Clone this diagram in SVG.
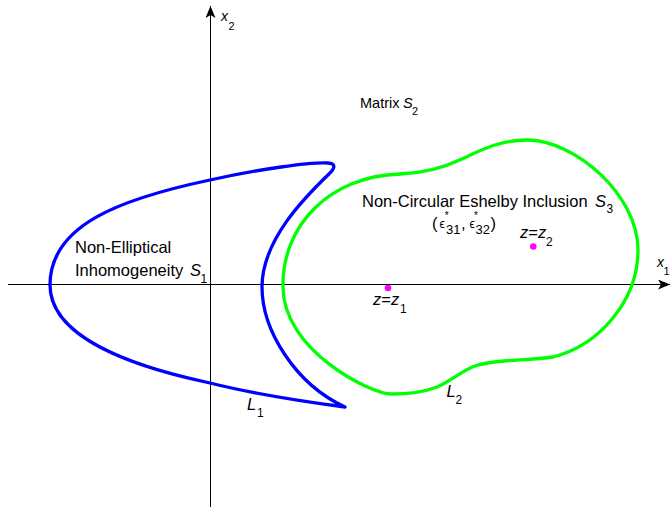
<svg xmlns="http://www.w3.org/2000/svg" width="670" height="507" viewBox="0 0 670 507">
<style>
text { font-family: "Liberation Sans", Arial, "DejaVu Sans", sans-serif; fill: #000; }
.lbl { font-size: 16.5px; }
.it { font-style: italic; }
.sub { font-size: 12px; }
.ax { stroke: #000; stroke-width: 1; fill: none; }
.curve { fill: none; stroke-width: 3.3; stroke-linejoin: round; stroke-linecap: round; }
.pt { fill: #ff00ff; }
</style>
<defs>
<marker id="arr" viewBox="0 0 12 10" refX="12" refY="5" markerWidth="12" markerHeight="10" orient="auto" markerUnits="userSpaceOnUse">
<path d="M0,0 L12,5 L0,10 L3,5 z" fill="#000"/>
</marker>
</defs>
<rect width="670" height="507" fill="#fff"/>

<g id="connectors">
<line class="ax" x1="8" y1="284.5" x2="670" y2="284.5" marker-end="url(#arr)"/>
<line class="ax" x1="210.5" y1="507" x2="210.5" y2="6" marker-end="url(#arr)"/>
</g>

<g id="axis-labels">
<text x="221" y="21" class="it" font-size="14">x</text>
<text x="228.5" y="29.5" font-size="11">2</text>
<text x="657" y="267" class="it" font-size="14">x</text>
<text x="663.5" y="275" font-size="11">1</text>
</g>

<g id="matrix">
<text x="360" y="107.5" font-size="14.5">Matrix</text>
<text x="403" y="107.5" font-size="14.5" class="it">S</text>
<text x="412" y="115" font-size="11">2</text>
</g>

<g id="inhomogeneity">
<path class="curve" stroke="#0000ff" d="M50,285 C50,225 120,199 210,180 C260,169 310,162 328,163 C336,163.5 335,168 330,173 C305,197 262,240 262,287 C262,330 295,384 345,407 C300,401 250,393 210,383 C125,365 50,335 50,285 Z"/>
<text x="75" y="253" class="lbl">Non-Elliptical</text>
<text x="75" y="276" class="lbl">Inhomogeneity</text>
<text x="190" y="276" class="lbl it">S</text>
<text x="200.5" y="282.5" class="sub">1</text>
<text x="247" y="409.5" class="lbl it">L</text>
<text x="257" y="417" class="sub">1</text>
</g>

<g id="inclusion">
<path class="curve" stroke="#00ff00" d="M283,287 C282,225 330,176 400,174 C425,173.3 445,167 462,159 C480,150.5 500,140 527,140 C575,140 638,195 638,250 C638,300 600,345 553,357 C525,361 495,359 475,366 C462,370.5 450,382 437,387 C424,392 410,394 392,394 C370,394 283,350 283,287 Z"/>
<text x="362" y="206.5" class="lbl">Non-Circular Eshelby Inclusion</text>
<text x="595" y="206.5" class="lbl it">S</text>
<text x="606.5" y="213" class="sub">3</text>
<text x="432" y="228.5" class="lbl">(</text>
<text x="439.5" y="227.5" font-size="12">ϵ</text>
<text x="444.8" y="218.5" font-size="10">*</text>
<text x="446" y="233.5" font-size="13">31</text>
<text x="461" y="228.5" class="lbl">,</text>
<text x="469.5" y="227.5" font-size="12">ϵ</text>
<text x="474" y="218.5" font-size="10">*</text>
<text x="475.5" y="233.5" font-size="13">32</text>
<text x="490.5" y="228.5" class="lbl">)</text>
<text x="446.5" y="396.5" class="lbl it">L</text>
<text x="455.5" y="403.5" class="sub">2</text>
</g>

<g id="point-z1">
<circle class="pt" cx="388" cy="288" r="3.3"/>
<text x="373" y="305" class="lbl"><tspan class="it">z</tspan>=<tspan class="it">z</tspan></text>
<text x="400" y="312.5" class="sub">1</text>
</g>

<g id="point-z2">
<circle class="pt" cx="533.3" cy="246.5" r="3.3"/>
<text x="520" y="238" class="lbl"><tspan class="it">z</tspan>=<tspan class="it">z</tspan></text>
<text x="546" y="246" class="sub">2</text>
</g>
</svg>
